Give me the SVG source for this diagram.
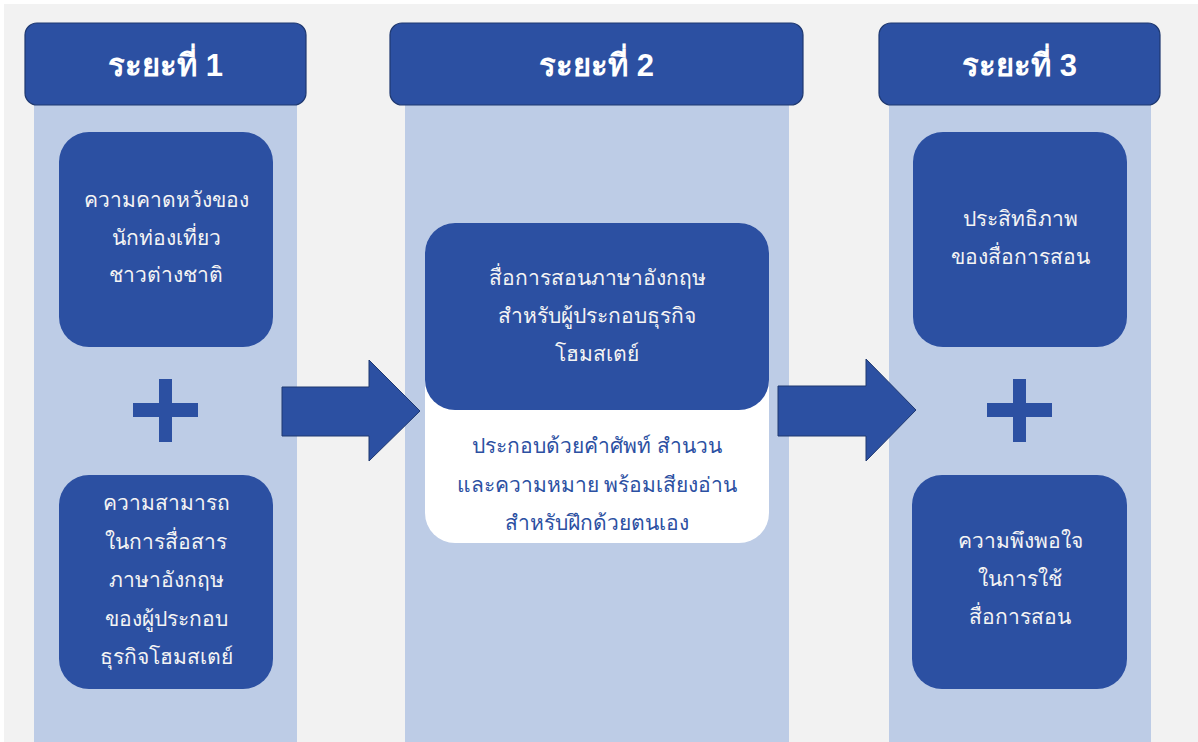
<svg xmlns="http://www.w3.org/2000/svg" width="1198" height="742" viewBox="0 0 1198 742">
<style>
.band{fill:#bdcce6}
.hdr{fill:#2c50a2;stroke:#1e3870;stroke-width:1.2}
.node{fill:#2c50a2}
.ht{font-family:"Liberation Sans","Noto Sans",sans-serif;font-size:31px;font-weight:bold;fill:#ffffff;text-anchor:middle}
.nt{font-family:"Liberation Sans","Noto Sans",sans-serif;font-size:21px;fill:#f4f4f4;text-anchor:middle}
.bt{font-family:"Liberation Sans","Noto Sans",sans-serif;font-size:21px;fill:#2c50a2;text-anchor:middle}
.conn{fill:#2c50a2;stroke:#1e3870;stroke-width:1}
</style>
<rect x="0" y="0" width="1198" height="742" fill="#ffffff"/>
<rect x="4" y="4" width="1194" height="738" fill="#f2f2f2"/>
<rect class="band" x="34" y="100" width="263" height="642"/>
<rect class="band" x="405" y="100" width="384" height="642"/>
<rect class="band" x="889" y="100" width="262" height="642"/>

<g id="header1"><rect class="hdr" x="25" y="23" width="281" height="82" rx="12"/><text class="ht" x="165.5" y="76">ระยะที่ 1</text></g>
<g id="header2"><rect class="hdr" x="390" y="23" width="413" height="82" rx="12"/><text class="ht" x="596.5" y="76">ระยะที่ 2</text></g>
<g id="header3"><rect class="hdr" x="879" y="23" width="281" height="82" rx="12"/><text class="ht" x="1019.5" y="76">ระยะที่ 3</text></g>

<g id="node-expectation"><rect class="node" x="59" y="132" width="214" height="215" rx="30"/>
<text class="nt" x="166" y="207">ความคาดหวังของ</text>
<text class="nt" x="166" y="245">นักท่องเที่ยว</text>
<text class="nt" x="166" y="282">ชาวต่างชาติ</text></g>

<g id="plus1"><rect class="node" x="159" y="379" width="13" height="63"/><rect class="node" x="133" y="403" width="65" height="14"/></g>

<g id="node-ability"><rect class="node" x="59" y="475" width="214" height="214" rx="30"/>
<text class="nt" x="166" y="510">ความสามารถ</text>
<text class="nt" x="166" y="549">ในการสื่อสาร</text>
<text class="nt" x="166" y="587">ภาษาอังกฤษ</text>
<text class="nt" x="166" y="626">ของผู้ประกอบ</text>
<text class="nt" x="166" y="664">ธุรกิจโฮมสเตย์</text></g>

<g id="node-material"><rect x="425" y="223" width="344" height="320" rx="30" fill="#ffffff"/>
<rect class="node" x="425" y="223" width="344" height="187" rx="30"/>
<text class="nt" x="597" y="285">สื่อการสอนภาษาอังกฤษ</text>
<text class="nt" x="597" y="323">สำหรับผู้ประกอบธุรกิจ</text>
<text class="nt" x="597" y="361">โฮมสเตย์</text>
<text class="bt" x="597" y="453">ประกอบด้วยคำศัพท์ สำนวน</text>
<text class="bt" x="597" y="492">และความหมาย พร้อมเสียงอ่าน</text>
<text class="bt" x="597" y="530">สำหรับฝึกด้วยตนเอง</text></g>

<g id="node-efficiency"><rect class="node" x="913" y="132" width="214" height="215" rx="30"/>
<text class="nt" x="1020" y="226">ประสิทธิภาพ</text>
<text class="nt" x="1020" y="264">ของสื่อการสอน</text></g>

<g id="plus2"><rect class="node" x="1013" y="379" width="13" height="63"/><rect class="node" x="987" y="403" width="65" height="14"/></g>

<g id="node-satisfaction"><rect class="node" x="912" y="475" width="215" height="214" rx="30"/>
<text class="nt" x="1020" y="548">ความพึงพอใจ</text>
<text class="nt" x="1020" y="586">ในการใช้</text>
<text class="nt" x="1020" y="624">สื่อการสอน</text></g>

<g id="connectors">
<polygon class="conn" points="282,387 369,387 369,360 420,411 369,461 369,436 282,436"/>
<polygon class="conn" points="778,386 866,386 866,359 916,410 866,461 866,436 778,436"/>
</g>
</svg>
